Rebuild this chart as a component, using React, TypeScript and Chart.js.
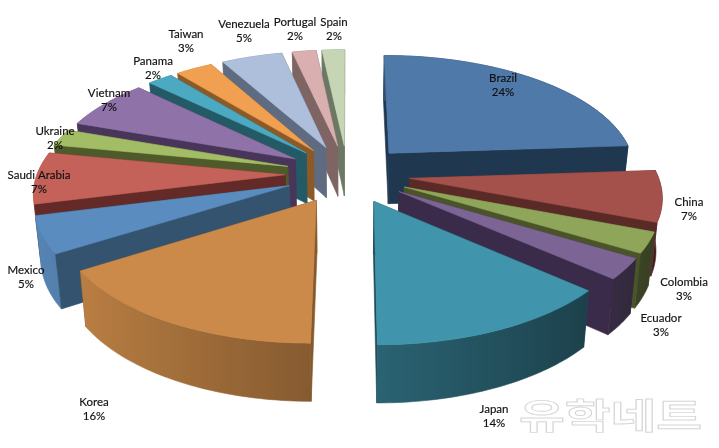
import React, { useEffect, useRef } from "react";
import { Chart, registerables } from "chart.js";

Chart.register(...registerables);

const countries = ["Brazil", "China", "Colombia", "Ecuador", "Japan", "Korea", "Mexico", "Saudi Arabia", "Ukraine", "Vietnam", "Panama", "Taiwan", "Venezuela", "Portugal", "Spain"];
const shares = [23.9, 6.9, 2.8, 2.8, 13.6, 16.0, 5.0, 7.0, 2.3, 6.8, 1.9, 2.8, 4.6, 1.8, 1.7];
const topColors = ["#4F79A8", "#A5514B", "#8FA65A", "#7C6495", "#4095AD", "#CB8A49", "#5B8CBF", "#C4625A", "#A3BD67", "#8E72A8", "#4CA9C2", "#F0A050", "#ADBFDB", "#D9AFAF", "#C6D6B4"];
const wallColors = ["#1F3850", "#5A2A26", "#4A5428", "#3B2B4A", "#1E4A54", "#85592B", "#34536F", "#632A27", "#4F5A2A", "#483559", "#235A66", "#8B5A26", "#5F6B80", "#7F6464", "#6C7863"];

// centre of the two text lines of each label, same order as countries
const labelSpots: [number, number][] = [[503, 85], [689, 209], [684, 289], [661, 325], [494, 416], [94, 409], [26, 277], [39, 182], [55, 138], [109, 100], [153, 68], [186, 41], [244, 31], [295, 29], [334, 29]];

const CX = 347.5;
const CY = 174;
const RADIUS_X = 248;
const RADIUS_Y = 116;
const PERSPECTIVE = 0.134;

const project = (u: number, v: number, dropped: boolean) => {
  const s = 1 / (1 - PERSPECTIVE * v);
  const x = CX + RADIUS_X * u * s;
  const y = CY + RADIUS_Y * v * s;
  if (!dropped) return { x, y };
  return { x: CX + (x - CX) * 0.98, y: y + 51.5 + 5.5 * v };
};

const shade = (hex: string, f: number) => {
  const n = parseInt(hex.slice(1), 16);
  const c = [(n >> 16) & 255, (n >> 8) & 255, n & 255].map((p) => Math.round(Math.min(255, p * f)));
  return `rgb(${c[0]},${c[1]},${c[2]})`;
};

const fillPoly = (ctx: CanvasRenderingContext2D, pts: { x: number; y: number }[], color: string | CanvasGradient) => {
  ctx.beginPath();
  pts.forEach((p, i) => (i ? ctx.lineTo(p.x, p.y) : ctx.moveTo(p.x, p.y)));
  ctx.closePath();
  ctx.fillStyle = color;
  ctx.strokeStyle = color;
  ctx.lineWidth = 0.6;
  ctx.fill();
  ctx.stroke();
};

// the pie controller works out the angles and explosion, this draws them tilted
const tiltedPie = {
  id: "tiltedPie",
  beforeDatasetDraw(chart: any) {
    const ctx: CanvasRenderingContext2D = chart.ctx;
    const arcs = chart.getDatasetMeta(0).data.map((arc: any, index: number) => {
      const start = arc.startAngle + Math.PI / 2;
      const end = arc.endAngle + Math.PI / 2;
      const mid = (start + end) / 2;
      const explode = arc.options.offset / arc.outerRadius;
      return { index, start, end, mid, ou: Math.sin(mid) * explode, ov: -Math.cos(mid) * explode };
    });
    arcs.sort((a: any, b: any) => -Math.cos(a.mid) - -Math.cos(b.mid));

    arcs.forEach((a: any) => {
      const steps = Math.max(3, Math.ceil((a.end - a.start) / 0.02));
      const rim = [];
      for (let i = 0; i <= steps; i++) {
        const t = a.start + ((a.end - a.start) * i) / steps;
        rim.push({ u: a.ou + Math.sin(t), v: a.ov - Math.cos(t), su: Math.sin(t) });
      }
      const apex = { u: a.ou, v: a.ov };
      const first = rim[0];
      const last = rim[steps];
      const wall = wallColors[a.index];
      const top = topColors[a.index];
      const radialWall = (p: { u: number; v: number }) => [project(apex.u, apex.v, false), project(p.u, p.v, false), project(p.u, p.v, true), project(apex.u, apex.v, true)];
      const startFront = Math.sin(a.start) < 0;
      const endFront = Math.sin(a.end) > 0;

      if (!startFront) fillPoly(ctx, radialWall(first), wall);
      if (!endFront) fillPoly(ctx, radialWall(last), wall);

      // rim wall is one shape, lighter towards the left
      const upper = rim.map((p) => project(p.u, p.v, false));
      const lower = rim.map((p) => project(p.u, p.v, true));
      const x0 = upper[0].x;
      const x1 = upper[steps].x;
      const grad = ctx.createLinearGradient(x0, 0, x1 === x0 ? x0 + 1 : x1, 0);
      rim.forEach((p, i) => {
        const stop = x1 === x0 ? 0 : (upper[i].x - x0) / (x1 - x0);
        grad.addColorStop(Math.min(1, Math.max(0, stop)), shade(top, 0.66 - 0.3 * p.su));
      });
      fillPoly(ctx, [...upper, ...lower.reverse()], grad);

      if (startFront) fillPoly(ctx, radialWall(first), wall);
      if (endFront) fillPoly(ctx, radialWall(last), wall);
      fillPoly(ctx, [project(apex.u, apex.v, false), ...upper], top);
    });
    return false;
  },
  afterDraw(chart: any) {
    const ctx: CanvasRenderingContext2D = chart.ctx;
    const total = shares.reduce((sum, v) => sum + v, 0);
    ctx.save();

    // faint site mark, bottom right
    ctx.save();
    ctx.translate(519, 429);
    ctx.scale(1.42, 1);
    ctx.font = "bold 35px 'Noto Sans CJK KR'";
    ctx.textAlign = "left";
    ctx.textBaseline = "alphabetic";
    ctx.lineWidth = 0.9;
    ctx.strokeStyle = "#D6D6D6";
    ctx.strokeText("유학네트", 0, 0);
    ctx.restore();

    ctx.font = "11.5px Lato";
    ctx.fillStyle = "#111111";
    ctx.strokeStyle = "#111111";
    ctx.lineWidth = 0.15;
    ctx.textAlign = "center";
    ctx.textBaseline = "middle";
    countries.forEach((name, i) => {
      const [x, y] = labelSpots[i];
      const pct = `${Math.round((shares[i] / total) * 100)}%`;
      ctx.fillText(name, x, y - 7);
      ctx.strokeText(name, x, y - 7);
      ctx.fillText(pct, x, y + 7.5);
      ctx.strokeText(pct, x, y + 7.5);
    });
    ctx.restore();
  },
};

export default function App() {
  const canvasRef = useRef<HTMLCanvasElement>(null);

  useEffect(() => {
    if (!canvasRef.current) return;
    const chart = new Chart(canvasRef.current, {
      type: "pie",
      data: {
        labels: countries,
        datasets: [{ data: shares, backgroundColor: topColors, offset: 50, borderWidth: 0 }],
      },
      options: {
        responsive: false,
        animation: false,
        plugins: { legend: { display: false }, tooltip: { enabled: false } },
      },
      plugins: [tiltedPie],
    } as any);
    return () => chart.destroy();
  }, []);

  return (
    <div style={{ position: "absolute", left: 0, top: 0, width: 719, height: 448, background: "#fff" }}>
      <canvas ref={canvasRef} width={719} height={448} style={{ display: "block" }} />
    </div>
  );
}
